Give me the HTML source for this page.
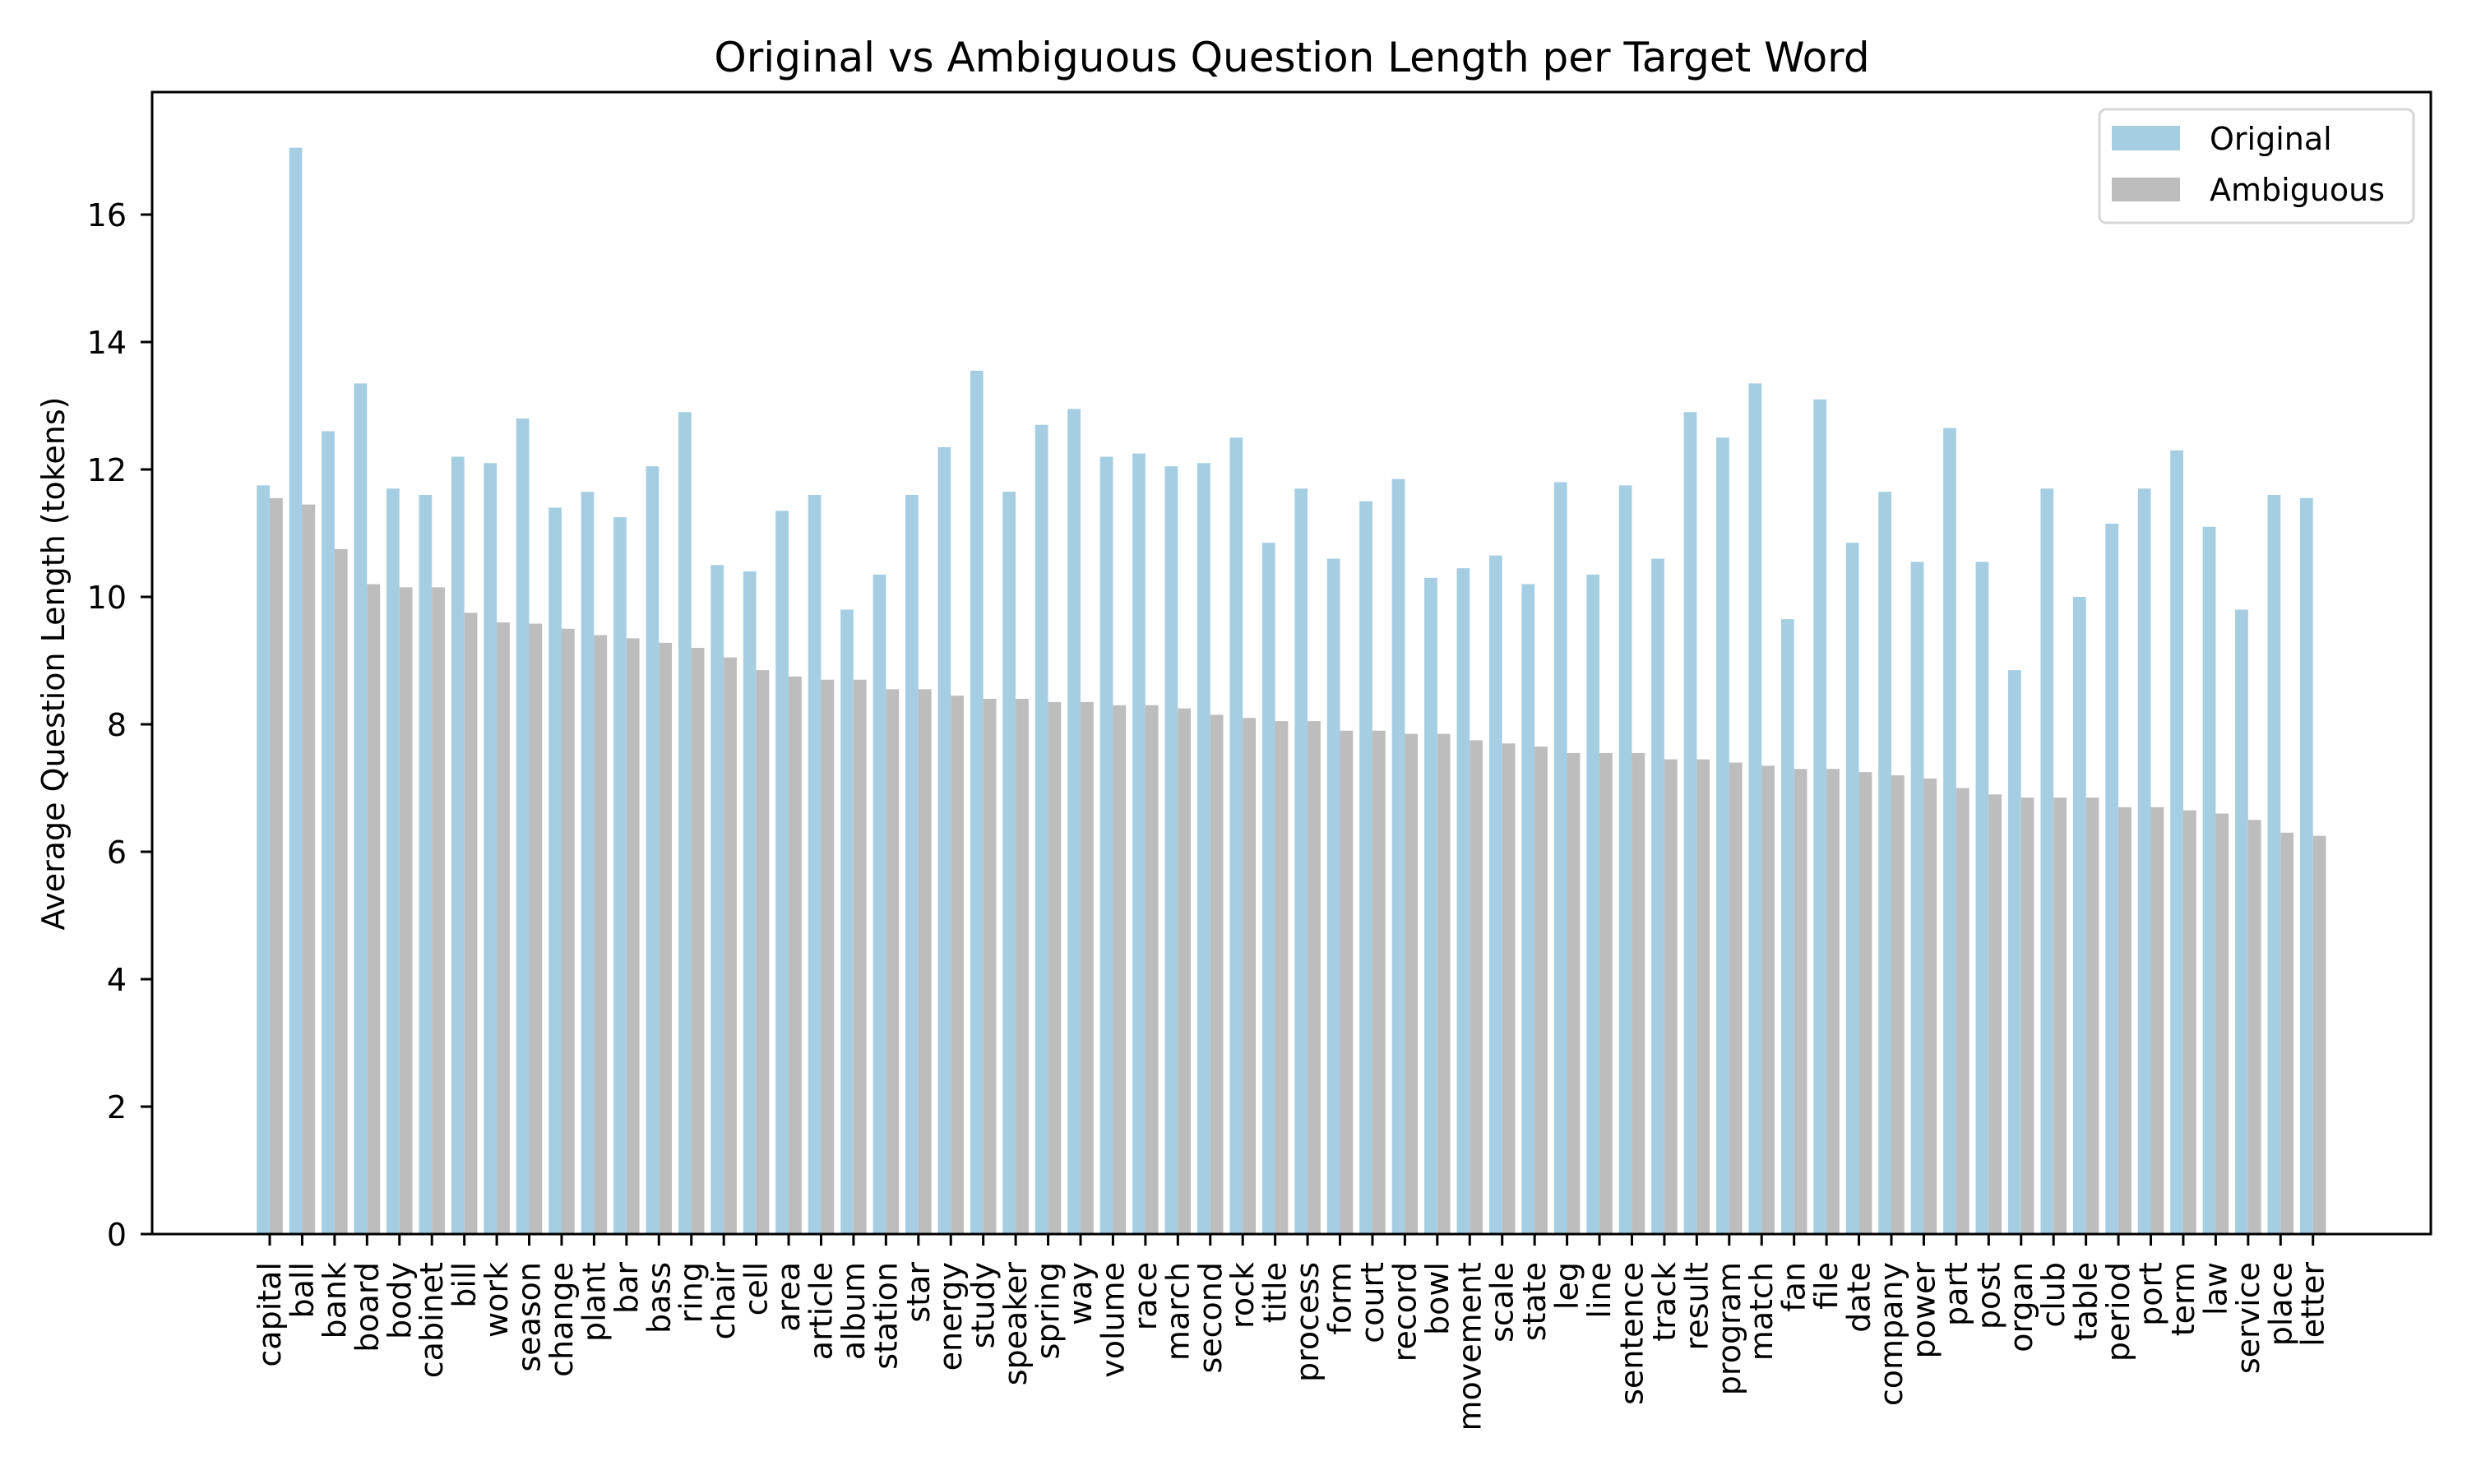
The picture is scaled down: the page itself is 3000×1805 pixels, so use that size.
<!DOCTYPE html>
<html><head><meta charset="utf-8"><style>
body{margin:0;background:#fff}
svg text{font-family:"DejaVu Sans","Liberation Sans",sans-serif;fill:#000}
</style></head><body>
<svg id="chart" width="3000" height="1800" viewBox="0 0 3000 1800" xmlns="http://www.w3.org/2000/svg">
<rect width="3000" height="1800" fill="#fff"/>
<text x="1571" y="87" font-size="50" text-anchor="middle">Original vs Ambiguous Question Length per Target Word</text>
<text transform="translate(78,807) rotate(-90)" font-size="38" text-anchor="middle">Average Question Length (tokens)</text>
<g id="bars"></g>
<g id="axes"></g>
<g>
<rect x="2553" y="133" width="382" height="138" rx="8" fill="#fff" stroke="#d6d6d6" stroke-width="3"/>
<rect x="2568" y="153" width="83" height="30" fill="#a6cee3"/>
<text x="2687" y="182" font-size="38">Original</text>
<rect x="2568" y="216" width="83" height="29" fill="#bdbdbd"/>
<text x="2687" y="244" font-size="38">Ambiguous</text>
</g>
</svg>
<script>
const categories=["capital","ball","bank","board","body","cabinet","bill","work","season","change","plant","bar","bass","ring","chair","cell","area","article","album","station","star","energy","study","speaker","spring","way","volume","race","march","second","rock","title","process","form","court","record","bowl","movement","scale","state","leg","line","sentence","track","result","program","match","fan","file","date","company","power","part","post","organ","club","table","period","port","term","law","service","place","letter"];
const originalValues=[11.75,17.05,12.6,13.35,11.7,11.6,12.2,12.1,12.8,11.4,11.65,11.25,12.05,12.9,10.5,10.4,11.35,11.6,9.8,10.35,11.6,12.35,13.55,11.65,12.7,12.95,12.2,12.25,12.05,12.1,12.5,10.85,11.7,10.6,11.5,11.85,10.3,10.45,10.65,10.2,11.8,10.35,11.75,10.6,12.9,12.5,13.35,9.65,13.1,10.85,11.65,10.55,12.65,10.55,8.85,11.7,10.0,11.15,11.7,12.3,11.1,9.8,11.6,11.55];
const ambiguousValues=[11.55,11.45,10.75,10.2,10.15,10.15,9.75,9.6,9.58,9.5,9.4,9.35,9.28,9.2,9.05,8.85,8.75,8.7,8.7,8.55,8.55,8.45,8.4,8.4,8.35,8.35,8.3,8.3,8.25,8.15,8.1,8.05,8.05,7.9,7.9,7.85,7.85,7.75,7.7,7.65,7.55,7.55,7.55,7.45,7.45,7.4,7.35,7.3,7.3,7.25,7.2,7.15,7.0,6.9,6.85,6.85,6.85,6.7,6.7,6.65,6.6,6.5,6.3,6.25];
const yTicks=[0,2,4,6,8,10,12,14,16];
const NS="http://www.w3.org/2000/svg";
const L=185,R=2956,T=112,B=1501;
const x0=328,step=39.44,bw=step*0.4;
const xPos=i=>x0+i*step;
const yPos=v=>B-v*77.5;
function mk(t,a,p){const e=document.createElementNS(NS,t);for(const k in a)e.setAttribute(k,a[k]);p.appendChild(e);return e;}
const bars=document.getElementById('bars'),axes=document.getElementById('axes');
categories.forEach((c,i)=>{
  const cx=xPos(i);
  const r1=mk('rect',{x:cx-bw,y:yPos(originalValues[i]),width:bw,height:B-yPos(originalValues[i]),fill:'#a6cee3'},bars);
  
  
  const r2=mk('rect',{x:cx,y:yPos(ambiguousValues[i]),width:bw,height:B-yPos(ambiguousValues[i]),fill:'#bdbdbd'},bars);
  
  
  const tk=mk('line',{x1:cx,x2:cx,y1:B,y2:B+14,stroke:'#000','stroke-width':3},axes);
  
  
  const tx=mk('text',{transform:`translate(${cx+13},1535) rotate(-90)`,'font-size':38,'text-anchor':'end'},axes);
  tx.textContent=c;
  
  
});
yTicks.forEach(v=>{
  const y=yPos(v);
  const tk=mk('line',{x1:L-14,x2:L,y1:y,y2:y,stroke:'#000','stroke-width':3},axes);
  
  
  const tx=mk('text',{x:L-31,y:y+14,'font-size':38,'text-anchor':'end'},axes);
  tx.textContent=v;
  
  
});
const fr=mk('rect',{x:L,y:T,width:R-L,height:B-T,fill:'none',stroke:'#000','stroke-width':3},axes);


</script>
</body></html>
